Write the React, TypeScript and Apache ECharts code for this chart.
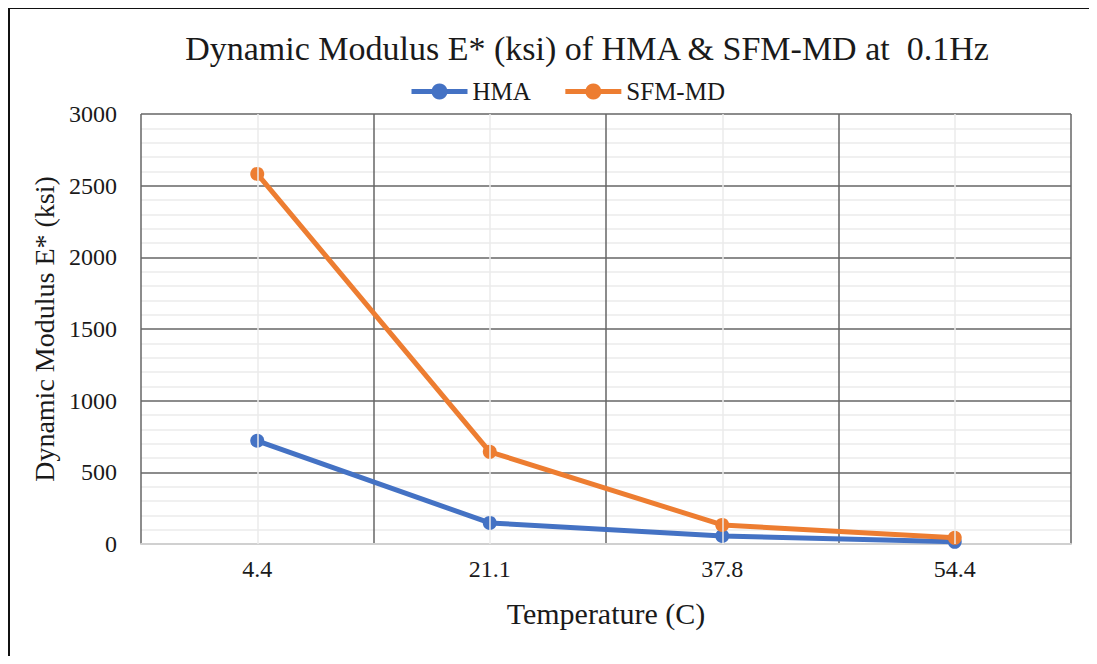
import React, { useEffect, useRef } from "react";
import * as echarts from "echarts";

const categories = ["4.4", "21.1", "37.8", "54.4"];
const hmaValues = [720, 147, 56, 15];
const sfmValues = [2582, 643, 133, 43];
const yTicks = { min: 0, max: 3000, interval: 500 };

const FONT = "'Liberation Serif', 'DejaVu Serif', serif";

export default function App() {
  const ref = useRef<HTMLDivElement>(null);
  useEffect(() => {
    if (!ref.current) return;
    const chart = echarts.init(ref.current, null, { renderer: "svg" });
    chart.setOption({
      animation: false,
      backgroundColor: "#ffffff",
      textStyle: { fontFamily: FONT },
      title: {
        text: "Dynamic Modulus E* (ksi) of HMA & SFM-MD at  0.1Hz",
        left: 574,
        textAlign: "center",
        top: 18,
        textStyle: { fontFamily: FONT, fontSize: 34, fontWeight: "normal", color: "#1a1a1a" },
      },
      legend: {
        top: 66,
        left: 396,
        itemWidth: 56,
        itemHeight: 20,
        itemGap: 32,
        lineStyle: { width: 5 },
        textStyle: { fontFamily: FONT, fontSize: 25, color: "#1a1a1a" },
        data: ["HMA", "SFM-MD"],
      },
      grid: { left: 133, top: 106, right: 18, bottom: 112, containLabel: false },
      xAxis: {
        type: "category",
        data: categories,
        boundaryGap: true,
        name: "Temperature (C)",
        nameLocation: "middle",
        nameGap: 54,
        nameTextStyle: { fontFamily: FONT, fontSize: 30, color: "#1a1a1a" },
        axisLine: { show: true, lineStyle: { color: "#d0d0d0", width: 2 } },
        axisTick: { show: false },
        axisLabel: { fontFamily: FONT, fontSize: 24, color: "#1a1a1a", margin: 13 },
        splitLine: { show: true, lineStyle: { color: "#666666", width: 1.5 } },
      },
      yAxis: {
        type: "value",
        min: yTicks.min,
        max: yTicks.max,
        interval: yTicks.interval,
        name: "Dynamic Modulus E* (ksi)",
        nameLocation: "middle",
        nameGap: 75,
        nameTextStyle: { fontFamily: FONT, fontSize: 28, color: "#1a1a1a" },
        axisLine: { show: false },
        axisTick: { show: false },
        axisLabel: {
          fontFamily: FONT,
          fontSize: 24,
          color: "#1a1a1a",
          margin: 24,
          formatter: (v: number) => String(v),
        },
        splitLine: { show: true, lineStyle: { color: "#666666", width: 1.5 } },
        minorTick: { show: false, splitNumber: 5 },
        minorSplitLine: { show: true, lineStyle: { color: "#ebebeb", width: 1.5 } },
      },
      series: [
        {
          name: "grid-centers",
          type: "line",
          data: [],
          z: 1,
          silent: true,
          markLine: {
            silent: true,
            symbol: ["none", "none"],
            label: { show: false },
            lineStyle: { color: "#ebebeb", width: 1.5, type: "solid" },
            data: categories.map((c) => ({ xAxis: c })),
          },
        },
        {
          name: "HMA",
          type: "line",
          data: hmaValues,
          color: "#4472c4",
          lineStyle: { width: 5, color: "#4472c4" },
          itemStyle: { color: "#4472c4" },
          symbol: "circle",
          symbolSize: 14,
          z: 3,
        },
        {
          name: "SFM-MD",
          type: "line",
          data: sfmValues,
          color: "#ed7d31",
          lineStyle: { width: 5, color: "#ed7d31" },
          itemStyle: { color: "#ed7d31" },
          symbol: "circle",
          symbolSize: 14,
          z: 4,
        },
      ],
      graphic: [
        { type: "line", shape: { x1: 1, y1: -1, x2: 1, y2: 660 }, style: { stroke: "#111", lineWidth: 2 } },
        { type: "line", shape: { x1: 0, y1: 0, x2: 1090, y2: 0 }, style: { stroke: "#111", lineWidth: 2 } },
      ],
    });
    return () => chart.dispose();
  }, []);
  return <div ref={ref} style={{ width: 1081, height: 648 }} />;
}
